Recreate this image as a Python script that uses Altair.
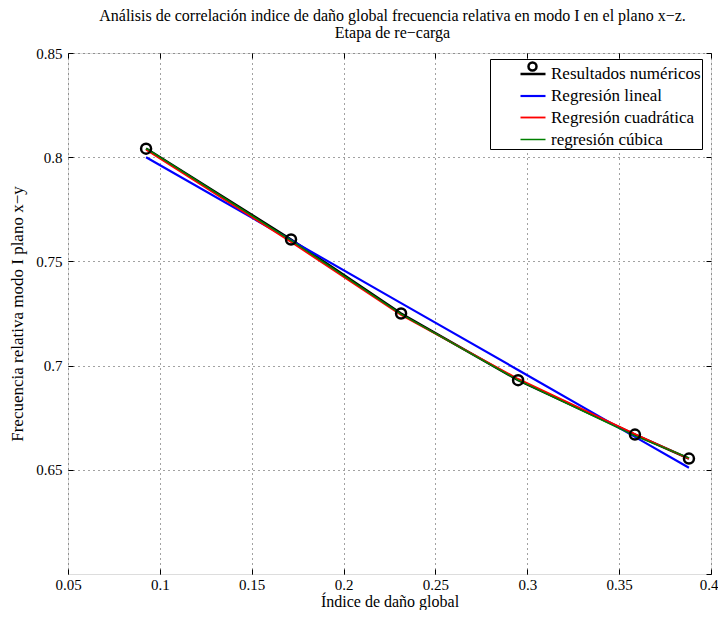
import altair as alt
import pandas as pd

# ---- data ----
x_vals = [0.0925, 0.1714, 0.2313, 0.2950, 0.3586, 0.3880]
y_numericos = [0.8041, 0.7605, 0.7250, 0.6930, 0.6669, 0.6554]
y_lineal = [0.8000, 0.7602, 0.7300, 0.6979, 0.6658, 0.6510]
y_cuadratica = [0.8036, 0.7593, 0.7243, 0.6936, 0.6672, 0.6553]
y_cubica = [0.8042, 0.7601, 0.7247, 0.6930, 0.6663, 0.6557]

series_names = ["Resultados numéricos", "Regresión lineal",
                "Regresión cuadrática", "regresión cúbica"]
series_colors = ["#000000", "#0000ff", "#ff0000", "#008000"]
series_widths = [2.5, 1.5, 1.5, 1.5]

x_ticks = [0.05, 0.1, 0.15, 0.2, 0.25, 0.3, 0.35, 0.4]
y_ticks = [0.6, 0.65, 0.7, 0.75, 0.8, 0.85]
y_tick_labels = [0.65, 0.7, 0.75, 0.8, 0.85]

title_line1 = "Análisis de correlación indice de daño global frecuencia relativa en modo I en el plano x−z."
title_line2 = "Etapa de re−carga"
x_title = "Índice de daño global"
y_title = "Frecuencia relativa modo I plano x−y"

FONT = "Liberation Serif"

rows = []
for name, ys in zip(series_names, [y_numericos, y_lineal, y_cuadratica, y_cubica]):
    for i, (xv, yv) in enumerate(zip(x_vals, ys)):
        rows.append({"serie": name, "x": xv, "y": yv, "i": i})
df = pd.DataFrame(rows)
pts = pd.DataFrame({"x": x_vals, "y": y_numericos, "marca": [series_names[0]] * len(x_vals)})

xscale = alt.Scale(domain=[0.05, 0.4], nice=False, zero=False)
yscale = alt.Scale(domain=[0.6, 0.85], nice=False, zero=False)

legend_main = alt.Legend(
    title=None, orient="none", legendX=422, legendY=6,
    padding=1, symbolOffset=28, labelOffset=4, symbolSize=625,
    labelFont=FONT, labelFontSize=17, labelColor="black",
    strokeColor="black", fillColor="white", cornerRadius=0,
    rowPadding=-6, zindex=1, symbolType="stroke",
)

last_label = "datum.value > 0.399"

lines = alt.Chart(df).mark_line().encode(
    x=alt.X("x:Q", scale=xscale, axis=alt.Axis(
        title=x_title, values=x_ticks, format="~g", orient="bottom",
        labelAlign={"condition": {"test": last_label, "value": "right"}, "value": "center"},
        labelOffset={"condition": {"test": last_label, "value": 7}, "value": 0},
        grid=True, gridDash=[1, 4], gridColor="#444", gridOpacity=1,
        ticks=True, tickSize=5, tickColor="black", offset=-5,
        domain=False, labelPadding=3, labelFlush=False, labelOverlap=False,
        labelFont=FONT, labelFontSize=15, labelColor="black",
        titleFont=FONT, titleFontSize=16, titleFontWeight="normal",
        titleColor="black", titlePadding=1)),
    y=alt.Y("y:Q", scale=yscale, axis=alt.Axis(
        title=y_title, values=y_tick_labels, format="~g", orient="left",
        grid=True, gridDash=[1, 4], gridColor="#444", gridOpacity=1,
        ticks=True, tickSize=5, tickColor="black", offset=-5,
        domain=False, labelPadding=6, labelFlush=False, labelOverlap=False,
        labelFont=FONT, labelFontSize=15, labelColor="black",
        titleFont=FONT, titleFontSize=17, titleFontWeight="normal",
        titleColor="black", titlePadding=9)),
    color=alt.Color("serie:N", scale=alt.Scale(domain=series_names, range=series_colors),
                    legend=legend_main),
    strokeWidth=alt.StrokeWidth("serie:N", scale=alt.Scale(domain=series_names, range=series_widths),
                                legend=legend_main),
    detail="serie:N",
    order="i:Q",
)

points = alt.Chart(pts).mark_point(filled=False, color="black", strokeWidth=2.5, size=100,
                                   opacity=1).encode(
    x=alt.X("x:Q", scale=xscale, axis=alt.Axis(
        title=None, values=x_ticks, orient="top", labels=False, grid=False,
        ticks=True, tickSize=5, tickColor="black", offset=-5, domain=False)),
    y=alt.Y("y:Q", scale=yscale, axis=alt.Axis(
        title=None, values=y_ticks, orient="right", labels=False, grid=False,
        ticks=True, tickSize=5, tickColor="black", offset=-5, domain=False)),
    shape=alt.Shape("marca:N", scale=alt.Scale(domain=[series_names[0]], range=["circle"]),
                    legend=alt.Legend(
                        title=None, orient="none", legendX=459, legendY=8,
                        padding=0, labelExpr="''", labelFontSize=1, symbolSize=64,
                        symbolStrokeColor="black", symbolStrokeWidth=2.5,
                        symbolFillColor="transparent", strokeColor="transparent",
                        fillColor="transparent", zindex=2)),
)

chart = alt.layer(lines, points).resolve_axis(x="independent", y="independent").properties(
    width=643, height=521,
    padding={"left": 60, "top": 45, "right": 7, "bottom": 36},
    autosize=alt.AutoSizeParams(type="none"),
    title=alt.TitleParams(text=title_line1, subtitle=title_line2,
                          font=FONT, fontSize=16, fontWeight="normal", color="black",
                          subtitleFont=FONT, subtitleFontSize=16, subtitleColor="black",
                          subtitlePadding=1,
                          anchor="middle", frame="group", offset=5, dx=3),
).configure_view(stroke="black", strokeWidth=1).configure(background="white")

chart.save("out.html", embed_options={"renderer": "svg", "actions": False})
